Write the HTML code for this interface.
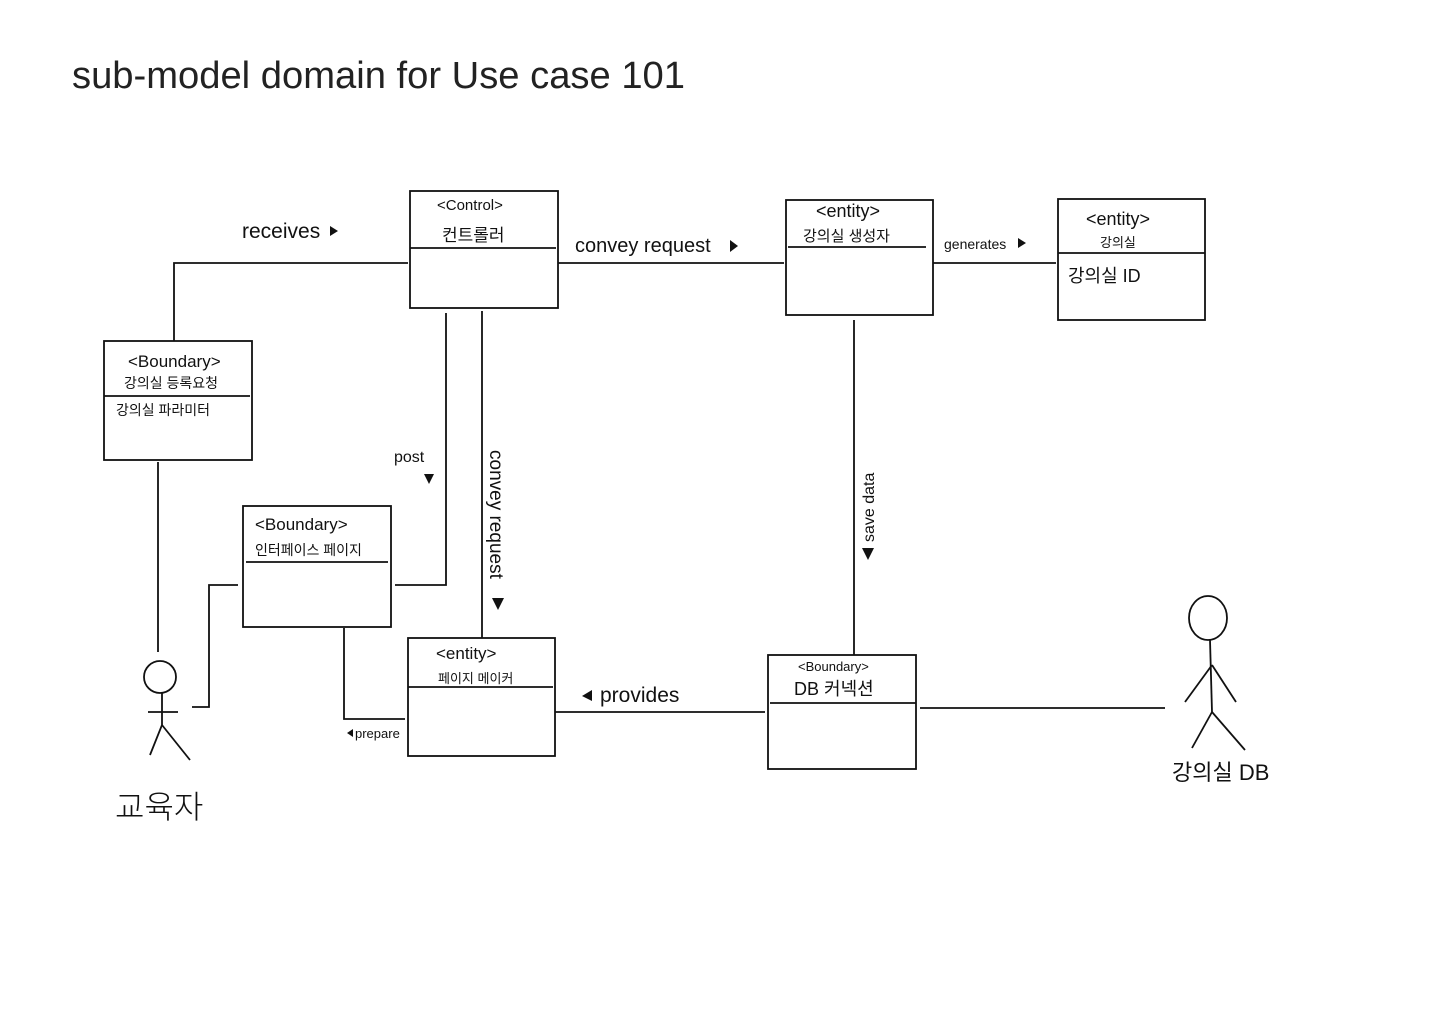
<!DOCTYPE html>
<html><head><meta charset="utf-8"><style>
html,body{margin:0;padding:0;background:#fff;}
svg{display:block;}
text{font-family:"Liberation Sans","Noto Sans CJK KR",sans-serif;fill:#111;}
</style></head><body>
<svg width="1440" height="1019" viewBox="0 0 1440 1019" xmlns="http://www.w3.org/2000/svg">
<g stroke="#111" stroke-width="1.8" fill="none">
<rect x="410" y="191" width="148" height="117"/><line x1="410" y1="248" x2="556" y2="248"/>
<rect x="786" y="200" width="147" height="115"/><line x1="788" y1="247" x2="926" y2="247"/>
<rect x="1058" y="199" width="147" height="121"/><line x1="1058" y1="253" x2="1205" y2="253"/>
<rect x="104" y="341" width="148" height="119"/><line x1="104" y1="396" x2="250" y2="396"/>
<rect x="243" y="506" width="148" height="121"/><line x1="246" y1="562" x2="388" y2="562"/>
<rect x="408" y="638" width="147" height="118"/><line x1="408" y1="687" x2="553" y2="687"/>
<rect x="768" y="655" width="148" height="114"/><line x1="770" y1="703" x2="916" y2="703"/>
<polyline points="174,341 174,263 408,263"/>
<line x1="558" y1="263" x2="784" y2="263"/>
<line x1="933" y1="263" x2="1056" y2="263"/>
<polyline points="446,313 446,585 395,585"/>
<line x1="482" y1="311" x2="482" y2="638"/>
<line x1="854" y1="320" x2="854" y2="655"/>
<line x1="158" y1="462" x2="158" y2="652"/>
<polyline points="238,585 209,585 209,707 192,707"/>
<polyline points="344,628 344,719 405,719"/>
<line x1="555" y1="712" x2="765" y2="712"/>
<line x1="920" y1="708" x2="1165" y2="708"/>
<circle cx="160" cy="677" r="16"/>
<polyline points="162,693 162,725 150,755"/><line x1="162" y1="725" x2="190" y2="760"/>
<line x1="148" y1="712" x2="178" y2="712"/>
<ellipse cx="1208" cy="618" rx="19" ry="22"/>
<line x1="1210" y1="640" x2="1212" y2="712"/>
<line x1="1212" y1="665" x2="1185" y2="702"/><line x1="1212" y1="665" x2="1236" y2="702"/>
<line x1="1212" y1="712" x2="1192" y2="748"/><line x1="1212" y1="712" x2="1245" y2="750"/>
</g>
<g fill="#111">
<polygon points="330,226 338,231 330,236"/>
<polygon points="730,240 738,246 730,252"/>
<polygon points="1018,238 1026,243 1018,248"/>
<polygon points="424,474 434,474 429,484"/>
<polygon points="492,598 504,598 498,610"/>
<polygon points="347,733 353,729 353,737"/>
<polygon points="582,696 592,690 592,701"/>
<polygon points="862,548 874,548 868,560"/>
</g>
<text x="72" y="88" font-size="38" textLength="613" lengthAdjust="spacingAndGlyphs" style="fill:#222">sub-model domain for Use case 101</text>
<text x="437" y="210" font-size="15">&lt;Control&gt;</text>
<text x="442" y="241" font-size="17">컨트롤러</text>
<text x="816" y="217" font-size="18">&lt;entity&gt;</text>
<text x="803" y="241" font-size="15">강의실 생성자</text>
<text x="1086" y="225" font-size="18">&lt;entity&gt;</text>
<text x="1100" y="247" font-size="13">강의실</text>
<text x="1068" y="282" font-size="18">강의실 ID</text>
<text x="128" y="367" font-size="17">&lt;Boundary&gt;</text>
<text x="124" y="388" font-size="14">강의실 등록요청</text>
<text x="116" y="415" font-size="14">강의실 파라미터</text>
<text x="255" y="530" font-size="17">&lt;Boundary&gt;</text>
<text x="255" y="555" font-size="14">인터페이스 페이지</text>
<text x="436" y="659" font-size="17">&lt;entity&gt;</text>
<text x="438" y="683" font-size="13">페이지 메이커</text>
<text x="798" y="671" font-size="13">&lt;Boundary&gt;</text>
<text x="794" y="695" font-size="18">DB 커넥션</text>
<text x="242" y="238" font-size="21">receives</text>
<text x="575" y="252" font-size="20">convey  request</text>
<text x="944" y="249" font-size="14">generates</text>
<text x="394" y="462" font-size="16">post</text>
<text x="600" y="702" font-size="21">provides</text>
<text x="355" y="738" font-size="13">prepare</text>
<text transform="translate(490,450) rotate(90)" font-size="19">convey request</text>
<text transform="translate(874,542) rotate(-90)" font-size="16">save data</text>
<text x="115" y="818" font-size="32" font-weight="300">교육자</text>
<text x="1172" y="780" font-size="22">강의실 DB</text>
</svg>
</body></html>
